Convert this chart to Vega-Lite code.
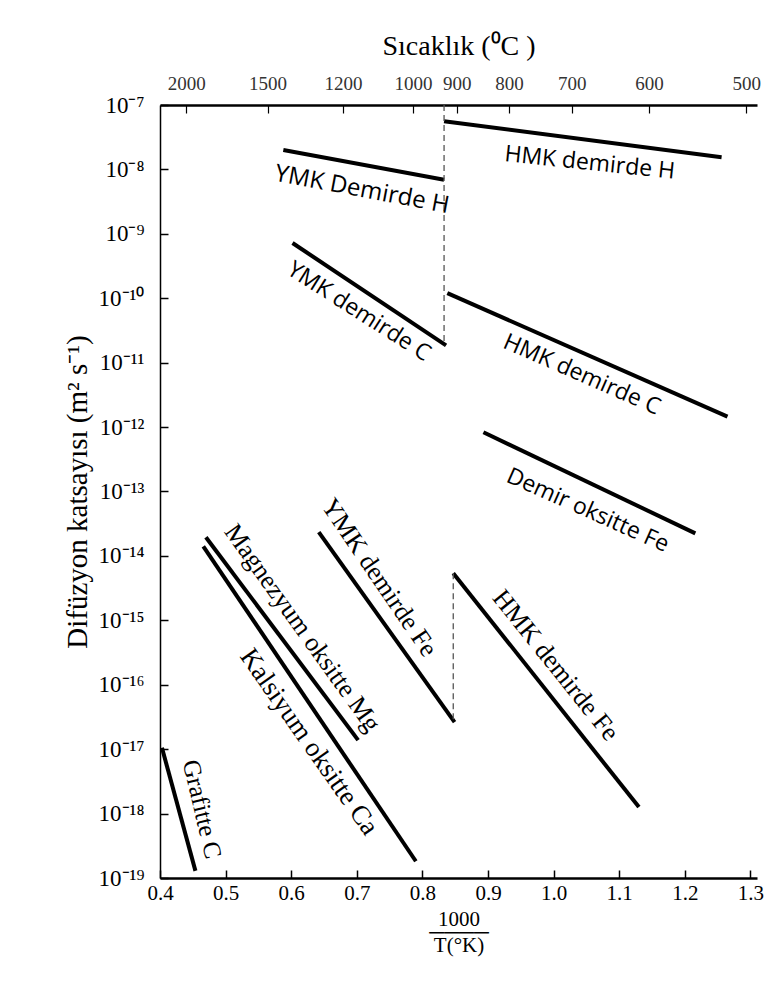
{
  "$schema": "https://vega.github.io/schema/vega-lite/v6.json",
  "width": 597,
  "height": 773,
  "autosize": {"type": "none"},
  "padding": {"left": 160, "top": 105, "right": 10, "bottom": 110},
  "background": "white",
  "config": {
    "view": {"stroke": null},
    "font": "Liberation Serif",
    "axis": {
      "grid": false,
      "labelFont": "Liberation Serif",
      "titleFont": "Liberation Serif",
      "domainColor": "black",
      "tickColor": "black",
      "labelColor": "black",
      "titleColor": "black",
      "titleFontWeight": "normal",
      "labelOverlap": false,
      "labelFlush": false
    }
  },
  "datasets": {
    "lines": [
      {"series": "HMK demirde H", "x": 0.833, "D": 5.6e-8},
      {"series": "HMK demirde H", "x": 1.256, "D": 1.55e-8},
      {"series": "YMK demirde H", "x": 0.588, "D": 2.0e-8},
      {"series": "YMK demirde H", "x": 0.833, "D": 6.9e-9},
      {"series": "YMK demirde C", "x": 0.602, "D": 7.2e-10},
      {"series": "YMK demirde C", "x": 0.836, "D": 1.86e-11},
      {"series": "HMK demirde C", "x": 0.838, "D": 1.2e-10},
      {"series": "HMK demirde C", "x": 1.265, "D": 1.45e-12},
      {"series": "Demir oksitte Fe", "x": 0.893, "D": 8.3e-13},
      {"series": "Demir oksitte Fe", "x": 1.216, "D": 2.24e-14},
      {"series": "YMK demirde Fe", "x": 0.642, "D": 2.34e-14},
      {"series": "YMK demirde Fe", "x": 0.849, "D": 2.63e-17},
      {"series": "HMK demirde Fe", "x": 0.847, "D": 5.4e-15},
      {"series": "HMK demirde Fe", "x": 1.13, "D": 1.26e-18},
      {"series": "Magnezyum oksitte Mg", "x": 0.47, "D": 1.95e-14},
      {"series": "Magnezyum oksitte Mg", "x": 0.702, "D": 1.38e-17},
      {"series": "Kalsiyum oksitte Ca", "x": 0.466, "D": 1.41e-14},
      {"series": "Kalsiyum oksitte Ca", "x": 0.79, "D": 1.82e-19},
      {"series": "Grafitte C", "x": 0.403, "D": 1.05e-17},
      {"series": "Grafitte C", "x": 0.454, "D": 1.29e-19}
    ],
    "dashes": [
      {"series": "H ve C geçişi", "x": 0.833, "D": 1e-7},
      {"series": "H ve C geçişi", "x": 0.833, "D": 1.86e-11},
      {"series": "Fe geçişi", "x": 0.847, "D": 5.4e-15},
      {"series": "Fe geçişi", "x": 0.847, "D": 2.63e-17}
    ],
    "labels": [
      {"label": "HMK demirde H", "x": 1.055, "D": 1.26e-8},
      {"label": "YMK Demirde H", "x": 0.708, "D": 4.8e-9},
      {"label": "YMK demirde C", "x": 0.703, "D": 6.2e-11},
      {"label": "HMK demirde C", "x": 1.043, "D": 6.5e-12},
      {"label": "Demir oksitte Fe", "x": 1.052, "D": 5.1e-14},
      {"label": "YMK  demirde Fe", "x": 0.734, "D": 4.6e-15},
      {"label": "HMK  demirde Fe", "x": 1.003, "D": 2.0e-16},
      {"label": "Magnezyum oksitte Mg", "x": 0.617, "D": 7.6e-16},
      {"label": "Kalsiyum oksitte Ca", "x": 0.627, "D": 1.29e-17},
      {"label": "Grafitte C", "x": 0.464, "D": 1.17e-18}
    ]
  },
  "resolve": {"axis": {"x": "independent"}},
  "layer": [
    {
      "data": {"name": "lines"},
      "mark": {"type": "line", "color": "black", "strokeWidth": 4, "strokeCap": "butt"},
      "encoding": {
        "x": {
          "field": "x", "type": "quantitative",
          "scale": {"domain": [0.4, 1.31], "nice": false, "zero": false},
          "axis": {
            "orient": "bottom",
            "values": [0.4, 0.5, 0.6, 0.7, 0.8, 0.9, 1.0, 1.1, 1.2, 1.3],
            "format": ".1f",
            "tickSize": -8,
            "tickWidth": 1.5,
            "domainWidth": 2.5,
            "labelFontSize": 21,
            "labelPadding": 12,
            "title": ["1000", "────", "T(°K)"],
            "titleFontSize": 21,
            "titleLineHeight": 13,
            "titlePadding": 5
          }
        },
        "y": {
          "field": "D", "type": "quantitative",
          "scale": {"type": "log", "domain": [1e-19, 1e-7], "nice": false},
          "axis": {
            "values": [1e-7, 1e-8, 1e-9, 1e-10, 1e-11, 1e-12, 1e-13, 1e-14, 1e-15, 1e-16, 1e-17, 1e-18, 1e-19],
            "labelExpr": "['10⁻⁷','10⁻⁸','10⁻⁹','10⁻¹⁰','10⁻¹¹','10⁻¹²','10⁻¹³','10⁻¹⁴','10⁻¹⁵','10⁻¹⁶','10⁻¹⁷','10⁻¹⁸','10⁻¹⁹'][round(-log(datum.value)/LN10)-7]",
            "tickSize": -8,
            "tickWidth": 1.5,
            "domainWidth": 1.5,
            "labelFontSize": 23,
            "labelPadding": 24,
            "title": "Difüzyon katsayısı (m² s⁻¹)",
            "titleFontSize": 29,
            "titlePadding": 6
          }
        },
        "detail": {"field": "series"}
      }
    },
    {
      "data": {"name": "dashes"},
      "mark": {"type": "line", "color": "#555555", "strokeWidth": 1.3, "strokeDash": [6, 4]},
      "encoding": {
        "x": {
          "field": "x", "type": "quantitative",
          "axis": {
            "orient": "top",
            "values": [0.43995, 0.56402, 0.67889, 0.78555, 0.85251, 0.93197, 1.02775, 1.14548, 1.29366],
            "labelExpr": "round(1000/datum.value-273)",
            "tickSize": -8,
            "tickWidth": 1.2,
            "domainWidth": 2.5,
            "labelFontSize": 19,
            "labelColor": "#333333",
            "labelPadding": 20,
            "title": "Sıcaklık (⁰C )",
            "titleFontSize": 28,
            "titlePadding": 14
          }
        },
        "y": {"field": "D", "type": "quantitative"},
        "detail": {"field": "series"}
      }
    },
    {
      "data": {"name": "labels"},
      "transform": [{"filter": "datum.label === 'HMK demirde H'"}],
      "mark": {"type": "text", "font": "Open Sans", "fontSize": 23, "angle": 6, "align": "center", "baseline": "middle", "color": "black"},
      "encoding": {"x": {"field": "x", "type": "quantitative", "axis": null}, "y": {"field": "D", "type": "quantitative"}, "text": {"field": "label"}}
    },
    {
      "data": {"name": "labels"},
      "transform": [{"filter": "datum.label === 'YMK Demirde H'"}],
      "mark": {"type": "text", "font": "Open Sans", "fontSize": 24, "angle": 10.7, "align": "center", "baseline": "middle", "color": "black"},
      "encoding": {"x": {"field": "x", "type": "quantitative", "axis": null}, "y": {"field": "D", "type": "quantitative"}, "text": {"field": "label"}}
    },
    {
      "data": {"name": "labels"},
      "transform": [{"filter": "datum.label === 'YMK demirde C'"}],
      "mark": {"type": "text", "font": "Open Sans", "fontSize": 23, "angle": 32.5, "align": "center", "baseline": "middle", "color": "black"},
      "encoding": {"x": {"field": "x", "type": "quantitative", "axis": null}, "y": {"field": "D", "type": "quantitative"}, "text": {"field": "label"}}
    },
    {
      "data": {"name": "labels"},
      "transform": [{"filter": "datum.label === 'HMK demirde C'"}],
      "mark": {"type": "text", "font": "Open Sans", "fontSize": 23, "angle": 23.7, "align": "center", "baseline": "middle", "color": "black"},
      "encoding": {"x": {"field": "x", "type": "quantitative", "axis": null}, "y": {"field": "D", "type": "quantitative"}, "text": {"field": "label"}}
    },
    {
      "data": {"name": "labels"},
      "transform": [{"filter": "datum.label === 'Demir oksitte Fe'"}],
      "mark": {"type": "text", "font": "Open Sans", "fontSize": 23, "angle": 24, "align": "center", "baseline": "middle", "color": "black"},
      "encoding": {"x": {"field": "x", "type": "quantitative", "axis": null}, "y": {"field": "D", "type": "quantitative"}, "text": {"field": "label"}}
    },
    {
      "data": {"name": "labels"},
      "transform": [{"filter": "datum.label === 'YMK  demirde Fe'"}],
      "mark": {"type": "text", "font": "Liberation Serif", "fontSize": 26, "angle": 55.7, "align": "center", "baseline": "middle", "color": "black"},
      "encoding": {"x": {"field": "x", "type": "quantitative", "axis": null}, "y": {"field": "D", "type": "quantitative"}, "text": {"field": "label"}}
    },
    {
      "data": {"name": "labels"},
      "transform": [{"filter": "datum.label === 'HMK  demirde Fe'"}],
      "mark": {"type": "text", "font": "Liberation Serif", "fontSize": 26, "angle": 51.3, "align": "center", "baseline": "middle", "color": "black"},
      "encoding": {"x": {"field": "x", "type": "quantitative", "axis": null}, "y": {"field": "D", "type": "quantitative"}, "text": {"field": "label"}}
    },
    {
      "data": {"name": "labels"},
      "transform": [{"filter": "datum.label === 'Magnezyum oksitte Mg'"}],
      "mark": {"type": "text", "font": "Liberation Serif", "fontSize": 26, "angle": 54.4, "align": "center", "baseline": "middle", "color": "black"},
      "encoding": {"x": {"field": "x", "type": "quantitative", "axis": null}, "y": {"field": "D", "type": "quantitative"}, "text": {"field": "label"}}
    },
    {
      "data": {"name": "labels"},
      "transform": [{"filter": "datum.label === 'Kalsiyum oksitte Ca'"}],
      "mark": {"type": "text", "font": "Liberation Serif", "fontSize": 27, "angle": 55, "align": "center", "baseline": "middle", "color": "black"},
      "encoding": {"x": {"field": "x", "type": "quantitative", "axis": null}, "y": {"field": "D", "type": "quantitative"}, "text": {"field": "label"}}
    },
    {
      "data": {"name": "labels"},
      "transform": [{"filter": "datum.label === 'Grafitte C'"}],
      "mark": {"type": "text", "font": "Liberation Serif", "fontSize": 25, "angle": 76.7, "align": "center", "baseline": "middle", "color": "black"},
      "encoding": {"x": {"field": "x", "type": "quantitative", "axis": null}, "y": {"field": "D", "type": "quantitative"}, "text": {"field": "label"}}
    }
  ]
}
